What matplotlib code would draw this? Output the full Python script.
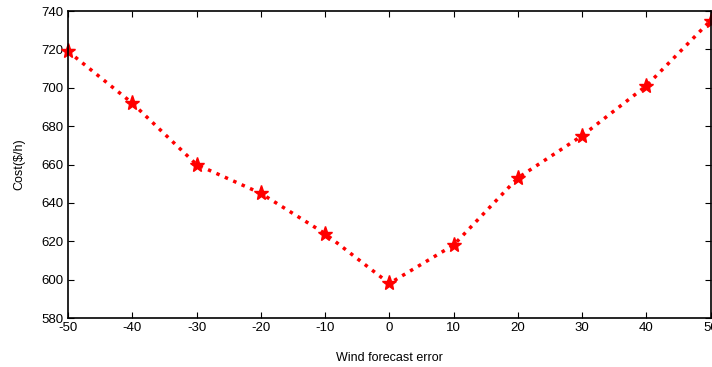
import matplotlib
matplotlib.use("Agg")
import matplotlib.pyplot as plt

plt.rcParams['font.family'] = ['Liberation Sans', 'DejaVu Sans']
plt.rcParams['axes.unicode_minus'] = False

wind_error = [-50, -40, -30, -20, -10, 0, 10, 20, 30, 40, 50]
cost = [719, 692, 660, 645, 624, 598, 618, 653, 675, 701, 735]

fig = plt.figure(figsize=(7.12, 3.67), dpi=100)
ax = fig.add_axes([0.0955, 0.1335, 0.9025, 0.8365])

ax.plot(wind_error, cost, color='red', linestyle=':', linewidth=2.5,
        marker='*', markersize=11, clip_on=False)

ax.set_xlim(-50, 50)
ax.set_ylim(580, 740)
ax.set_xticks(range(-50, 51, 10))
ax.set_yticks(range(580, 741, 20))
ax.tick_params(direction='in', top=True, right=True, labelsize=9.5, length=4, width=0.8, pad=3)
for s in ax.spines.values():
    s.set_linewidth(1.2)

ax.set_xlabel('Wind forecast error', fontsize=9, labelpad=13)
ax.set_ylabel('Cost($/h)', fontsize=9, labelpad=12)

fig.savefig('out.png', dpi=100)
